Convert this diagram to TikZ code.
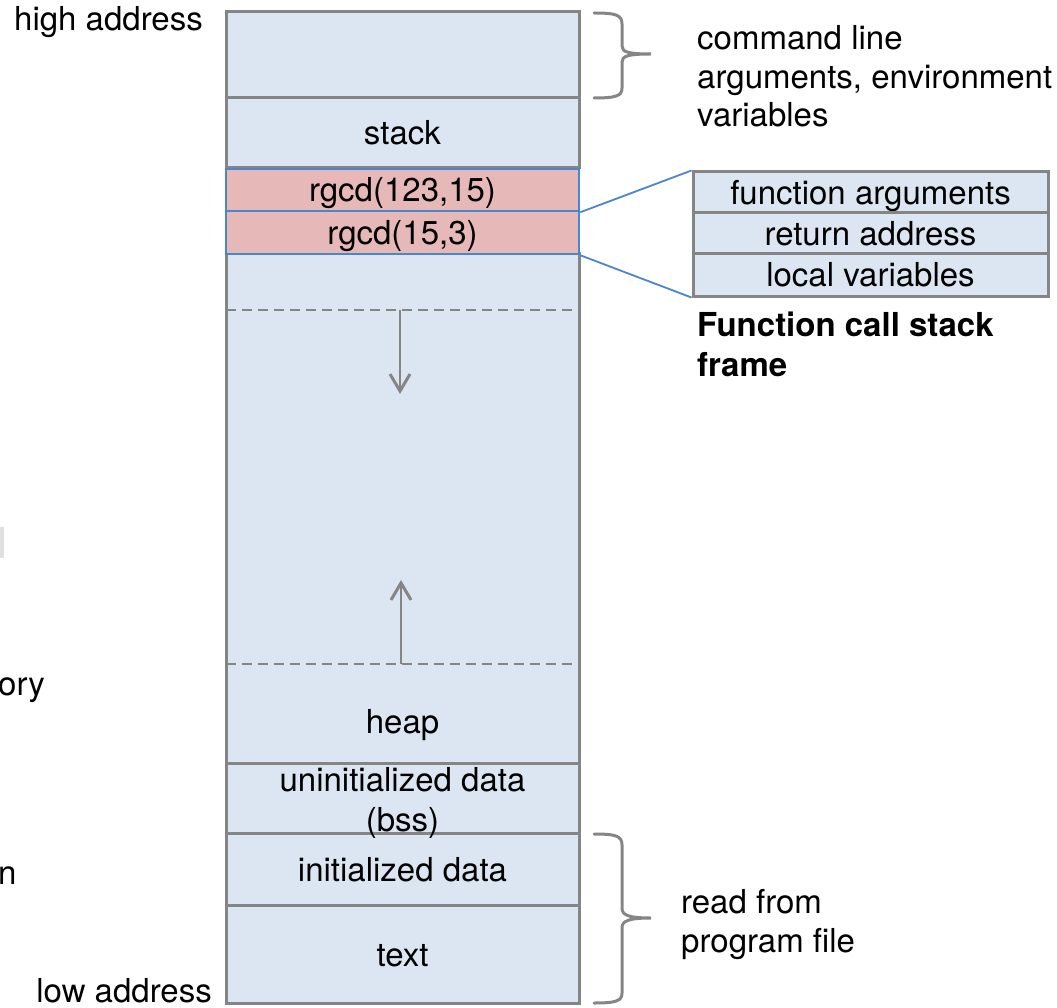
\documentclass[tikz,border=0pt]{standalone}
\usepackage{fontspec}
\setmainfont{TeX Gyre Heros}
\usetikzlibrary{arrows.meta}

\definecolor{cellfill}{HTML}{DCE6F2}
\definecolor{framefill}{HTML}{E6B9B8}
\definecolor{rulegray}{HTML}{858585}
\definecolor{linkblue}{HTML}{4A86CE}

\begin{document}
\begin{tikzpicture}[x=1pt,y=-1pt,
  every node/.style={font=\fontsize{33}{40}\selectfont, inner sep=0pt, text=black},
  celltext/.style={text height=27pt, text depth=3pt},
  cell/.style={celltext, draw=rulegray, line width=3pt, fill=cellfill, minimum width=353pt},
  framecell/.style={celltext, draw=linkblue, line width=2.5pt, fill=framefill, minimum width=353pt},
  partcell/.style={celltext, draw=rulegray, line width=3pt, fill=cellfill, minimum width=355pt},
  divider/.style={draw=rulegray, line width=2pt, dash pattern=on 10pt off 6pt},
  growth/.style={draw=rulegray, line width=2.5pt, -{Straight Barb[length=17pt,width=20pt,line width=3pt]}},
  bracepath/.style={draw=rulegray, line width=3pt, line cap=round},
  link/.style={draw=linkblue, line width=1.8pt}
]
\useasboundingbox (0,0) rectangle (1057,1008);

% memory layout column
\node[cell, minimum height=86pt]  (args)  at (402.5,55)    {};
\node[cell, minimum height=70pt]  (stack) at (402.5,133)   {stack};
\node[cell, minimum height=509pt] (gap)   at (402.5,508.5) {};
\node[cell, minimum height=70pt]  (bss)   at (402.5,798)   {};
\node[cell, minimum height=72pt]  (init)  at (402.5,869)   {initialized data};
\node[cell, minimum height=98pt]  (text)  at (402.5,954)   {text};
\node[celltext] (heap) at (402.5,721) {heap};
\node[celltext] (bss1) at (402.5,779) {uninitialized data};
\node[celltext] (bss2) at (402.5,819) {(bss)};

% active stack frames
\node[framecell, minimum height=42pt] (f1) at (402.5,190)   {rgcd(123,15)};
\node[framecell, minimum height=43pt] (f2) at (402.5,232.5) {rgcd(15,3)};

% stack / heap limits and growth directions
\coordinate (stlimL) at (226,310);
\coordinate (stlimR) at (579,310);
\coordinate (hplimL) at (226,664);
\coordinate (hplimR) at (579,664);
\draw[divider] (stlimL) -- (stlimR);
\draw[divider] (hplimL) -- (hplimR);
\coordinate (downS) at (400,310);
\coordinate (downE) at (400,394);
\coordinate (upS)   at (401,664);
\coordinate (upE)   at (401,580);
\draw[growth] (downS) -- (downE);
\draw[growth] (upS) -- (upE);

% layout of one stack frame
\node[partcell, minimum height=41pt] (fa) at (870.5,192.5) {function arguments};
\node[partcell, minimum height=41pt] (ra) at (870.5,233.5) {return address};
\node[partcell, minimum height=42pt] (lv) at (870.5,275)   {local variables};
\draw[link] (f1.south east) -- (fa.north west);
\draw[link] (f2.south east) -- (lv.south west);

% braces
\draw[bracepath] (594,13) .. controls (616,13) and (622,15) .. (622,24) -- (622,46)
  .. controls (622,52) and (628,54) .. (651,54)
  .. controls (628,54) and (622,56) .. (622,62) -- (622,88)
  .. controls (622,96) and (616,98) .. (594,98);
\draw[bracepath] (594,834) .. controls (616,834) and (622,836) .. (622,845) -- (622,908)
  .. controls (622,915) and (628,918) .. (651,918)
  .. controls (628,918) and (622,921) .. (622,928) -- (622,993)
  .. controls (622,1001) and (616,1003) .. (594,1003);

% labels
\node[anchor=base east] (hi) at (203,31)   {high address};
\node[anchor=base east] (lo) at (212,1002) {low address};
\node[anchor=base west] (cl1) at (697,50)  {command line};
\node[anchor=base west] (cl2) at (697,89)  {arguments, environment};
\node[anchor=base west] (cl3) at (697,127) {variables};
\node[anchor=base west, font=\fontsize{33}{40}\selectfont\bfseries] (fc1) at (697,336) {Function call stack};
\node[anchor=base west, font=\fontsize{33}{40}\selectfont\bfseries] (fc2) at (697,376) {frame};
\node[anchor=base west] (rf1) at (681,913) {read from};
\node[anchor=base west] (rf2) at (681,952) {program file};

% cut-off text at the left edge
\node[anchor=base west] (frag1) at (-2,695) {ory};
\node[anchor=base west] (frag2) at (-2,884) {n};
\fill[black!12] (0,527) rectangle (4,558);
\end{tikzpicture}
\end{document}
